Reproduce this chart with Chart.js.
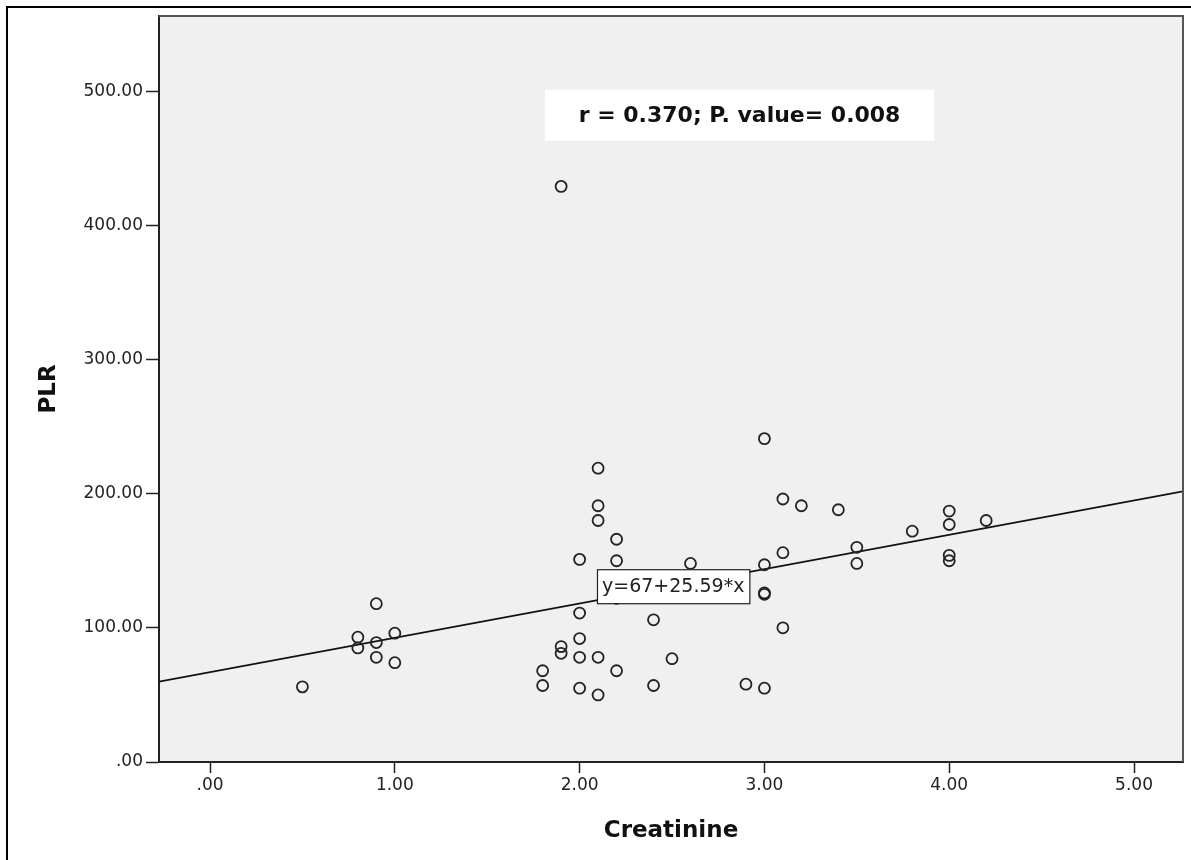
<!DOCTYPE html>
<html>
<head>
<meta charset="utf-8">
<script src="https://cdn.jsdelivr.net/npm/chart.js@4.4.0/dist/chart.umd.min.js"></script>
<style>
  body { margin: 0; background: #fff; }
</style>
</head>
<body>
<canvas id="myChart" width="1191" height="860"></canvas>
<script>
// data
const creatinine = [0.5, 0.8, 0.8, 0.9, 0.9, 0.9, 1.0, 1.0,
    1.8, 1.8, 1.9, 1.9, 1.9, 2.0, 2.0, 2.0, 2.0, 2.0,
    2.1, 2.1, 2.1, 2.1, 2.1, 2.2, 2.2, 2.2, 2.2, 2.4, 2.4, 2.5, 2.6, 2.9,
    3.0, 3.0, 3.0, 3.0, 3.0, 3.1, 3.1, 3.1, 3.2, 3.4, 3.5, 3.5, 3.8,
    4.0, 4.0, 4.0, 4.0, 4.2];
const plr = [56, 93, 85, 118, 89, 78, 96, 74,
    68, 57, 429, 86, 81, 151, 111, 92, 78, 55,
    219, 191, 180, 78, 50, 166, 150, 122, 68, 106, 57, 77, 148, 58,
    241, 147, 126, 125, 55, 196, 156, 100, 191, 188, 160, 148, 172,
    187, 177, 154, 150, 180];

const xTicks = [0, 1, 2, 3, 4, 5];
const xTickLabels = ['.00', '1.00', '2.00', '3.00', '4.00', '5.00'];
const yTicks = [0, 100, 200, 300, 400, 500];
const yTickLabels = ['.00', '100.00', '200.00', '300.00', '400.00', '500.00'];

const fitIntercept = 67;
const fitSlope = 25.59;
const fitText = 'y=67+25.59*x';
const statsText = 'r = 0.370; P. value= 0.008';

const xRange = [-0.276, 5.265];
const yRange = [0, 556];

function fit(x) {
    return fitIntercept + fitSlope * x;
}

const FONT = 'DejaVu Sans';

const points = creatinine.map((c, i) => ({ x: c, y: plr[i] }));
const fitLine = xRange.map(x => ({ x: x, y: fit(x) }));

const decor = {
    id: 'decor',
    beforeDraw(chart) {
        const { ctx, chartArea: a } = chart;
        ctx.save();
        ctx.fillStyle = '#f0f0f0';
        ctx.fillRect(a.left, a.top, a.right - a.left, a.bottom - a.top);
        ctx.restore();
    },
    afterDatasetsDraw(chart) {
        const { ctx, chartArea: a, scales } = chart;
        const xs = scales.x, ys = scales.y;
        ctx.save();

        // stats box
        const sx0 = xs.getPixelForValue(1.813), sx1 = xs.getPixelForValue(3.918);
        const sy0 = ys.getPixelForValue(501), sy1 = ys.getPixelForValue(463);
        ctx.fillStyle = '#fff';
        ctx.fillRect(sx0, sy0, sx1 - sx0, sy1 - sy0);
        ctx.fillStyle = '#111';
        ctx.font = 'bold 22px "' + FONT + '"';
        ctx.textAlign = 'center';
        ctx.textBaseline = 'middle';
        ctx.fillText(statsText, (sx0 + sx1) / 2, (sy0 + sy1) / 2 + 1);

        // fit equation box, left-bottom corner on the line
        const ex = xs.getPixelForValue(2.094);
        const eyb = ys.getPixelForValue(fit(2.094)) + 3;
        ctx.font = '19px "' + FONT + '"';
        const w = ctx.measureText(fitText).width + 10;
        const h = 34;
        ctx.fillStyle = '#fff';
        ctx.fillRect(ex, eyb - h, w, h);
        ctx.strokeStyle = '#222';
        ctx.lineWidth = 1.2;
        ctx.strokeRect(ex + 0.5, eyb - h + 0.5, w, h);
        ctx.fillStyle = '#222';
        ctx.textAlign = 'left';
        ctx.fillText(fitText, ex + 5, eyb - h / 2 + 1);

        // top and right border of the plot
        ctx.strokeStyle = '#555';
        ctx.lineWidth = 2;
        ctx.beginPath();
        ctx.moveTo(a.left, a.top);
        ctx.lineTo(a.right, a.top);
        ctx.lineTo(a.right, a.bottom);
        ctx.stroke();
        ctx.restore();
    },
    afterDraw(chart) {
        // outer frame, left and top edges only are in view
        const ctx = chart.ctx;
        ctx.save();
        ctx.strokeStyle = '#000';
        ctx.lineWidth = 2;
        ctx.beginPath();
        ctx.moveTo(7, chart.height);
        ctx.lineTo(7, 7);
        ctx.lineTo(chart.width, 7);
        ctx.stroke();
        ctx.restore();
    }
};

const config = {
    type: 'scatter',
    data: {
        datasets: [{
            label: 'PLR',
            data: points,
            pointStyle: 'circle',
            pointRadius: 5.5,
            borderWidth: 1.8,
            borderColor: '#222',
            backgroundColor: 'rgba(0,0,0,0)'
        }, {
            label: 'Fit',
            type: 'line',
            data: fitLine,
            borderColor: '#111',
            borderWidth: 1.8,
            pointRadius: 0,
            fill: false
        }]
    },
    options: {
        responsive: false,
        animation: false,
        layout: { padding: { top: 16, right: 8, left: 0, bottom: 0 } },
        plugins: {
            legend: { display: false },
            tooltip: { enabled: false }
        },
        scales: {
            x: {
                type: 'linear',
                min: xRange[0],
                max: xRange[1],
                afterFit: s => { s.height = 98; },
                afterBuildTicks: s => { s.ticks = xTicks.map(v => ({ value: v })); },
                ticks: {
                    callback: (v, i) => xTickLabels[i],
                    font: { family: FONT, size: 17 },
                    color: '#222',
                    padding: 2,
                    maxRotation: 0
                },
                grid: { drawOnChartArea: false, tickLength: 11, color: '#222', tickWidth: 1.5 },
                border: { color: '#222', width: 2 },
                title: {
                    display: true,
                    text: 'Creatinine',
                    font: { family: FONT, size: 23, weight: 'bold' },
                    color: '#111',
                    padding: { top: 0, bottom: 15 }
                }
            },
            y: {
                type: 'linear',
                min: yRange[0],
                max: yRange[1],
                afterFit: s => { s.width = 159; },
                afterBuildTicks: s => { s.ticks = yTicks.map(v => ({ value: v })); },
                ticks: {
                    callback: (v, i) => yTickLabels[i],
                    font: { family: FONT, size: 17 },
                    color: '#222',
                    padding: 3
                },
                grid: { drawOnChartArea: false, tickLength: 13, color: '#222', tickWidth: 1.5 },
                border: { color: '#222', width: 2 },
                title: {
                    display: true,
                    text: 'PLR',
                    font: { family: FONT, size: 23, weight: 'bold' },
                    color: '#111',
                    padding: { top: 35, bottom: 0 }
                }
            }
        }
    },
    plugins: [decor]
};

const myChart = new Chart(document.getElementById('myChart'), config);
</script>
</body>
</html>
